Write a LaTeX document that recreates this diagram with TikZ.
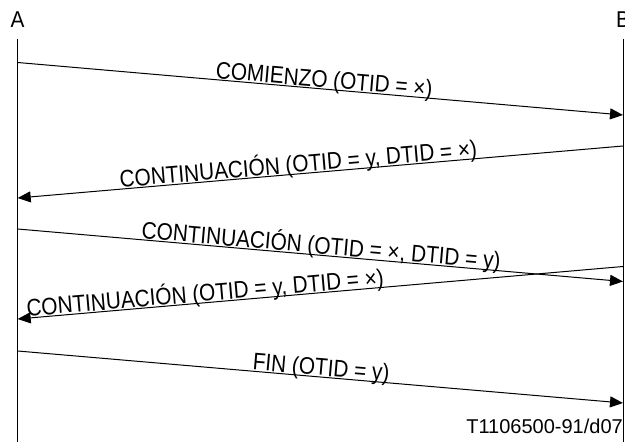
\documentclass[tikz,border=0pt]{standalone}
\usepackage{fontspec}
\setmainfont{Liberation Sans}
\usetikzlibrary{arrows.meta}
\newcommand{\tallt}[1]{\raisebox{1.5pt}{\scalebox{1}[1.15]{#1}}}
\begin{document}
\begin{tikzpicture}[x=1pt,y=-1pt,
  life/.style={line width=1pt},
  msg/.style={line width=1pt, -{Triangle[length=13pt,width=11pt]}},
  lbl/.style={font=\fontsize{20.8}{25}\selectfont, sloped, anchor=base, inner sep=0pt},
  party/.style={font=\fontsize{20.8}{25}\selectfont, anchor=base, inner sep=0pt}]
\useasboundingbox (0,0) rectangle (625,445);
% participants
\node[party] (A) at (17.5,27) {\scalebox{1}[1.1]{A}};
\node[party] (B) at (623,27) {\scalebox{1}[1.1]{B}};
\coordinate (Atop) at (17.7,39);
\coordinate (Abot) at (17.7,442);
\coordinate (Btop) at (623,39);
\coordinate (Bbot) at (623,442);
\draw[life] (Atop) -- (Abot);
\draw[life] (Btop) -- (Bbot);
% message end points
\coordinate (a1) at (17.7,62.5);  \coordinate (b1) at (623,115);
\coordinate (b2) at (623,146);    \coordinate (a2) at (17.7,198);
\coordinate (a3) at (17.7,229);   \coordinate (b3) at (623,281.5);
\coordinate (b4) at (623,266.5);  \coordinate (a4) at (17.7,319);
\coordinate (a5) at (17.7,351);   \coordinate (b5) at (623,403);
% messages
\draw[msg] (a1) -- node[lbl, pos=0.505] {\tallt{COMIENZO (OTID = ×)}} (b1);
\draw[msg] (b2) -- node[lbl, pos=0.535] {\tallt{CONTINUACIÓN (OTID = y, DTID = ×)}} (a2);
\draw[msg] (a3) -- node[lbl, pos=0.5] {\tallt{CONTINUACIÓN (OTID = ×, DTID = y)}} (b3);
\draw[msg] (b4) -- node[lbl, pos=0.689] {\tallt{CONTINUACIÓN (OTID = y, DTID = ×)}} (a4);
\draw[msg] (a5) -- node[lbl, pos=0.5] {\tallt{FIN (OTID = y)}} (b5);
% reference code
\node[font=\fontsize{20}{24}\selectfont, anchor=base east, inner sep=0pt] (ref) at (623,433) {T1106500-91/d07};
\end{tikzpicture}
\end{document}
